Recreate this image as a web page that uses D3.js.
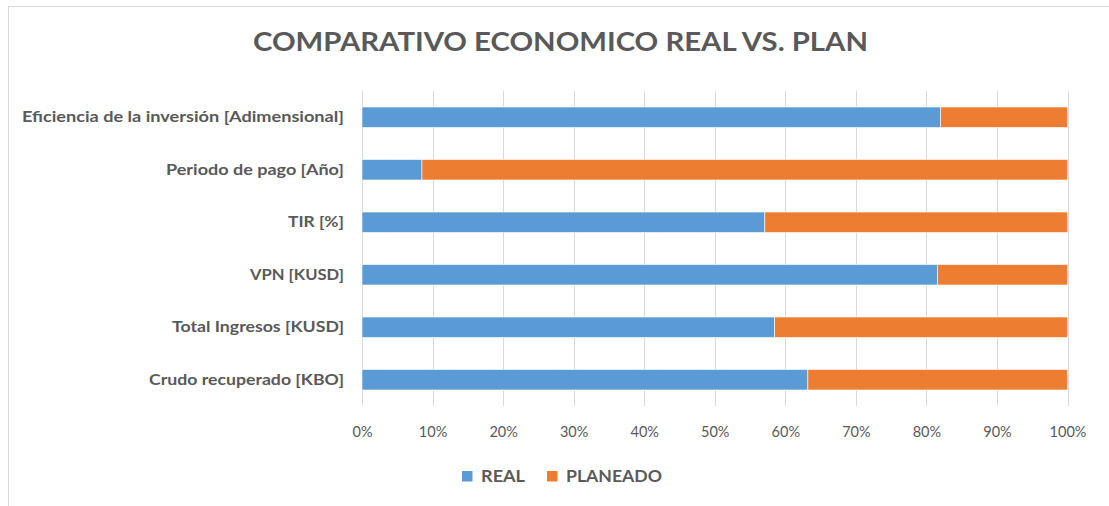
<!DOCTYPE html>
<html>
<head>
<meta charset="utf-8">
<script src="https://cdn.jsdelivr.net/npm/d3@7"></script>
<style>
  body { margin: 0; background: #fff; }
  svg { display: block; font-family: Lato, "Open Sans", sans-serif; }
  .axis-label { fill: #595959; }
</style>
</head>
<body>
<svg id="chart"></svg>
<script>
const width = 1109;
const height = 506;

// categories from top to bottom, as shown
const categories = [
  "Eficiencia de la inversión [Adimensional]",
  "Periodo de pago [Año]",
  "TIR [%]",
  "VPN [KUSD]",
  "Total Ingresos [KUSD]",
  "Crudo recuperado [KBO]"
];
// share of each bar (percent)
const real = [82.0, 8.5, 57.1, 81.6, 58.5, 63.2];
const planeado = [18.0, 91.5, 42.9, 18.4, 41.5, 36.8];
const seriesNames = ["REAL", "PLANEADO"];
const seriesColors = ["#5B9BD5", "#ED7D31"];
const xTicks = [0, 0.1, 0.2, 0.3, 0.4, 0.5, 0.6, 0.7, 0.8, 0.9, 1];
// measured label widths so the narrow Excel font is mimicked
const labelWidths = [322, 178, 56, 94, 172, 195];

const margin = { top: 91, bottom: 100, left: 362, right: 41.5 };

const svg = d3.select("svg#chart")
  .attr("width", width)
  .attr("height", height);

// chart border
svg.append("rect")
  .attr("x", 8.5)
  .attr("y", 6.5)
  .attr("width", width + 10)
  .attr("height", height)
  .attr("fill", "none")
  .attr("stroke", "#D9D9D9")
  .attr("stroke-width", 1);

// title
svg.append("text")
  .attr("x", 560.5)
  .attr("y", 51)
  .attr("text-anchor", "middle")
  .attr("font-size", 26)
  .attr("font-weight", "bold")
  .attr("fill", "#595959")
  .attr("textLength", 615)
  .attr("lengthAdjust", "spacingAndGlyphs")
  .text("COMPARATIVO ECONOMICO REAL VS. PLAN");

const table = categories.map((c, i) => ({ cat: c, REAL: real[i], PLANEADO: planeado[i] }));
const stacked = d3.stack()
  .keys(seriesNames)
  .offset(d3.stackOffsetExpand)(table);

const x = d3.scaleLinear()
  .domain([0, 1])
  .range([margin.left, width - margin.right]);

const y = d3.scaleBand()
  .domain(categories)
  .range([margin.top, 406])
  .paddingInner(0.61)
  .paddingOuter(0.305);

// gridlines
svg.append("g")
  .attr("id", "grid")
  .selectAll("line")
  .data(xTicks)
  .enter()
  .append("line")
  .attr("x1", d => Math.round(x(d)) + 0.5)
  .attr("x2", d => Math.round(x(d)) + 0.5)
  .attr("y1", y.range()[0])
  .attr("y2", y.range()[1])
  .attr("stroke", "#D9D9D9")
  .attr("stroke-width", 1);

// bars
svg.append("g")
  .attr("id", "bars")
  .selectAll("g")
  .data(stacked)
  .enter()
  .append("g")
  .attr("fill", (d, i) => seriesColors[i])
  .selectAll("rect")
  .data(d => d)
  .enter()
  .append("rect")
  .attr("x", d => x(d[0]))
  .attr("y", d => y(d.data.cat))
  .attr("width", d => x(d[1]) - x(d[0]))
  .attr("height", y.bandwidth())
  .attr("stroke", "#fff")
  .attr("stroke-width", 0.6);

// x axis labels
const xAxis = d3.axisBottom(x)
  .tickValues(xTicks)
  .tickFormat(d3.format(".0%"))
  .tickSize(0)
  .tickPadding(0);
const xg = svg.append("g")
  .attr("id", "xAxis")
  .attr("transform", "translate(0," + 427 + ")")
  .call(xAxis);
xg.select(".domain").remove();
xg.selectAll("text")
  .attr("class", "axis-label")
  .attr("font-family", "Lato, 'Open Sans', sans-serif")
  .attr("font-size", 14.5)
  .attr("fill", "#595959");

// y axis labels
const yAxis = d3.axisLeft(y).tickSize(0).tickPadding(18);
const yg = svg.append("g")
  .attr("id", "yAxis")
  .attr("transform", "translate(" + margin.left + ",0)")
  .call(yAxis);
yg.select(".domain").remove();
yg.selectAll("text")
  .attr("class", "axis-label")
  .attr("font-family", "Lato, 'Open Sans', sans-serif")
  .attr("font-size", 15)
  .attr("font-weight", "bold")
  .attr("fill", "#595959")
  .attr("textLength", (d, i) => labelWidths[i])
  .attr("lengthAdjust", "spacingAndGlyphs");

// legend
const legendX = [462, 547];
const legendTextW = [44, 96];
const legend = svg.append("g").attr("id", "legend");
const items = legend.selectAll("g")
  .data(seriesNames)
  .enter()
  .append("g")
  .attr("transform", (d, i) => "translate(" + legendX[i] + ",471)");
items.append("rect")
  .attr("width", 10.5)
  .attr("height", 10.5)
  .attr("fill", (d, i) => seriesColors[i]);
items.append("text")
  .attr("x", 19)
  .attr("y", 11.3)
  .attr("font-size", 17)
  .attr("font-weight", "bold")
  .attr("fill", "#595959")
  .attr("textLength", (d, i) => legendTextW[i])
  .attr("lengthAdjust", "spacingAndGlyphs")
  .text(d => d);
</script>
</body>
</html>
